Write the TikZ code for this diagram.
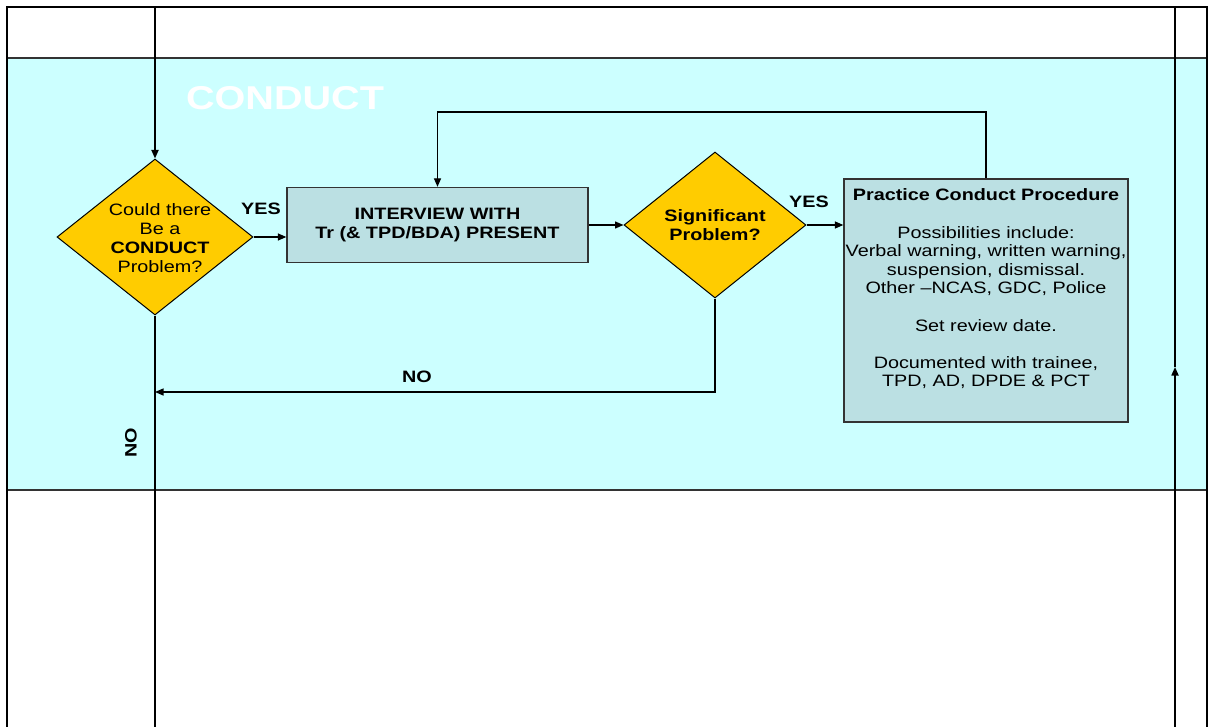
\documentclass[tikz,border=0pt]{standalone}
\usepackage{fontspec}
\setmainfont{Liberation Sans}[FakeStretch=1.2]
\usetikzlibrary{arrows.meta,shapes.geometric}
\definecolor{band}{HTML}{CCFFFF}
\definecolor{boxfill}{HTML}{BBE0E3}
\definecolor{diafill}{HTML}{FFCC00}
\definecolor{laneline}{HTML}{333333}
\begin{document}
\begin{tikzpicture}[x=1pt,y=-1pt,
  arr/.style={line width=1.3pt,-{Triangle[length=8.5pt,width=7pt]}},
  conn/.style={line width=1.3pt},
  flowv/.style={line width=1.7pt},
  frame/.style={line width=2pt},
  laneedge/.style={line width=1.4pt,draw=laneline},
  decision/.style={diamond,draw,line width=1pt,fill=diafill,inner sep=0pt,align=center,
    font=\fontsize{16.5}{18.8}\selectfont},
  procbox/.style={rectangle,draw=laneline,line width=1.3pt,fill=boxfill,inner sep=0pt},
  txt/.style={align=center,inner sep=0pt,font=\fontsize{16.5}{18.6}\selectfont},
  lbl/.style={inner sep=0pt,font=\bfseries\fontsize{16.5}{18.6}\selectfont}]
\useasboundingbox (0,0) rectangle (1209,727);
% swim-lane band
\fill[band] (7,58) rectangle (1207,490);
\draw[laneedge] (7,58) -- (1207,58);
\draw[laneedge] (7,490) -- (1207,490);
% outer frame
\draw[frame] (7,727) -- (7,7) -- (1207,7) -- (1207,727);
% title
\node[inner sep=0pt,text=white,font=\bfseries\fontsize{33}{36}\selectfont] (title) at (285,98) {CONDUCT};
% nodes
\node[decision,shape aspect=1.256,minimum width=196pt,minimum height=156pt] (d1) at (155,237) {};
\node[txt,font=\fontsize{16.5}{18.8}\selectfont] (d1t) at (160,238)
  {Could there\\Be a\\\textbf{CONDUCT}\\Problem?};
\node[procbox,minimum width=301pt,minimum height=75pt] (b1) at (437.5,225) {};
\node[txt,font=\bfseries\fontsize{16.5}{18.6}\selectfont] (b1t) at (b1.center) {INTERVIEW WITH\\Tr (\& TPD/BDA) PRESENT};
\node[decision,shape aspect=1.247,minimum width=182pt,minimum height=146pt,font=\bfseries\fontsize{16.5}{18.6}\selectfont] (d2) at (715,225)
  {Significant\\Problem?};
\node[procbox,minimum width=284pt,minimum height=243pt] (b2) at (986,300.5) {};
\node[txt] (b2t) at (986,289)
  {\textbf{Practice Conduct Procedure}\\[18.6pt]
   Possibilities include:\\
   Verbal warning, written warning,\\
   suspension, dismissal.\\
   Other --NCAS, GDC, Police\\[18.6pt]
   Set review date.\\[18.6pt]
   Documented with trainee,\\
   TPD, AD, DPDE \& PCT};
% coordinates
\coordinate (top1) at (155,7);
\coordinate (bot1) at (155,727);
\coordinate (loop) at (700,112);
\coordinate (noL) at (155,392);
\coordinate (rb) at (1175,727);
\coordinate (rm) at (1175,367);
\coordinate (rt) at (1175,7);
% connectors
\draw[flowv,-{Triangle[length=8.5pt,width=7pt]}] (top1) -- (d1.north);
\draw[flowv] (d1.south) -- (bot1);
\draw[arr] (d1.east) -- (d1.east -| b1.west);
\draw[arr] (b1.east) -- (d2.west);
\draw[arr] (d2.east) -- (d2.east -| b2.west);
\draw[arr] (b2.north) |- (loop) -| (b1.north);
\draw[arr] (d2.south) |- (noL);
\draw[flowv,-{Triangle[length=8.5pt,width=7pt]}] (rb) -- (rm);
\draw[flowv] (rm) -- (rt);
% labels
\node[lbl] (yes1) at (261,209) {YES};
\node[lbl] (yes2) at (809,202) {YES};
\node[lbl] (no1) at (417,377) {NO};
\node[lbl,rotate=90] (no2) at (131,443) {NO};
\end{tikzpicture}
\end{document}
